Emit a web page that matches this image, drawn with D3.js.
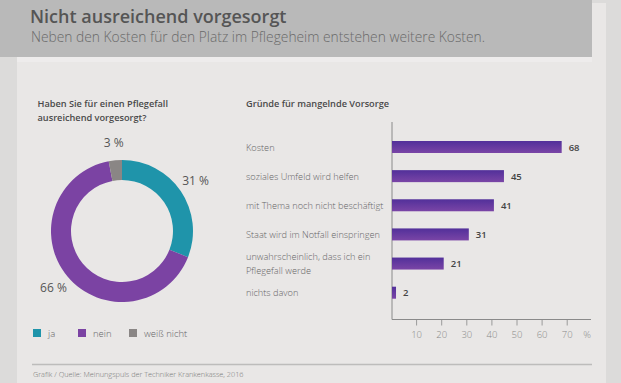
<!DOCTYPE html>
<html><head><meta charset="utf-8">
<script src="https://cdn.jsdelivr.net/npm/d3@7"></script>
<style>
html,body{margin:0;padding:0;background:#dcdbda;}
svg{display:block;font-family:"Open Sans",sans-serif;}
</style></head>
<body>
<svg id="c" width="621" height="383"></svg>
<script>
// ---- data ----
const title = "Nicht ausreichend vorgesorgt";
const subtitle = "Neben den Kosten für den Platz im Pflegeheim entstehen weitere Kosten.";
const donutTitle = ["Haben Sie für einen Pflegefall", "ausreichend vorgesorgt?"];
const donutCategories = ["ja", "nein", "weiß nicht"];
const donutValues = [31, 66, 3];
const donutColors = ["#1f94aa", "#7b43a3", "#8a8685"];
const barTitle = "Gründe für mangelnde Vorsorge";
const barCategories = ["Kosten", "soziales Umfeld wird helfen", "mit Thema noch nicht beschäftigt",
  "Staat wird im Notfall einspringen", "unwahrscheinlich, dass ich ein\nPflegefall werde", "nichts davon"];
const barValues = [68, 45, 41, 31, 21, 2];
const barTicks = [10, 20, 30, 40, 50, 60, 70];
const source = "Grafik / Quelle: Meinungspuls der Techniker Krankenkasse, 2016";

const svg = d3.select("#c");
const defs = svg.append("defs");
const g = defs.append("linearGradient").attr("id","barGrad").attr("x1",0).attr("x2",0).attr("y1",0).attr("y2",1);
g.append("stop").attr("offset","0%").attr("stop-color","#52309a");
g.append("stop").attr("offset","100%").attr("stop-color","#7a45a6");

// backgrounds
svg.append("rect").attr("x",0).attr("y",0).attr("width",621).attr("height",383).attr("fill","#dcdbda");
svg.append("rect").attr("x",17).attr("y",3).attr("width",589).attr("height",380).attr("fill","#e9e7e6");
svg.append("rect").attr("x",0).attr("y",0).attr("width",592).attr("height",57).attr("fill","#b9b9b9");
svg.append("rect").attr("x",17).attr("y",57).attr("width",575).attr("height",5).attr("fill","#eeecec");

svg.append("text").attr("x",30).attr("y",23).attr("font-size",18).attr("font-weight",600)
  .attr("fill","#555").text(title);
svg.append("text").attr("x",31).attr("y",41.5).attr("font-size",13.8).attr("font-weight",300)
  .attr("fill","#6a6a6a").text(subtitle);

// donut
donutTitle.forEach((t,i)=>{
  svg.append("text").attr("x",37.5).attr("y",107+i*14).attr("font-size",9.2).attr("font-weight",600)
    .attr("fill","#4a4a4a").text(t);
});
const cx=122, cy=231;
const pie = d3.pie().sort(null).value(d=>d)(donutValues);
const arc = d3.arc().innerRadius(51).outerRadius(71);
const labelArc = d3.arc().innerRadius(89).outerRadius(89);
const dg = svg.append("g").attr("transform",`translate(${cx},${cy})`);
dg.selectAll("path").data(pie).join("path").attr("d",arc).attr("fill",(d,i)=>donutColors[i]);
dg.selectAll("text").data(pie).join("text")
  .attr("transform",d=>`translate(${labelArc.centroid(d)})`)
  .attr("text-anchor","middle").attr("dominant-baseline","central")
  .attr("font-size",12).attr("fill","#555").text(d=>d.data+" %");

// legend
const legX = [33, 78, 129];
donutCategories.forEach((c,i)=>{
  svg.append("rect").attr("x",legX[i]).attr("y",329).attr("width",8).attr("height",8).attr("fill",donutColors[i]);
  svg.append("text").attr("x",legX[i]+15).attr("y",333).attr("dominant-baseline","central")
    .attr("font-size",9.5).attr("font-weight",300).attr("fill","#666").text(c);
});

// bar chart
svg.append("text").attr("x",246).attr("y",107).attr("font-size",9.2).attr("font-weight",600)
  .attr("fill","#4a4a4a").text(barTitle);
const x = d3.scaleLinear().domain([0,70]).range([391, 566.7]);
const y = d3.scalePoint().domain(barCategories).range([147, 292.7]);
const bh = 12;
svg.append("line").attr("x1",392).attr("x2",392).attr("y1",122).attr("y2",319.5).attr("stroke","#8a8a8a").attr("stroke-width",1);
const xAxis = d3.axisBottom(x).tickValues(barTicks).tickSize(6).tickFormat(d=>d);
const ax = svg.append("g").attr("transform","translate(0,319.5)").call(xAxis);
ax.select(".domain").remove();
ax.append("line").attr("x1",392).attr("x2",591).attr("y1",0).attr("y2",0).attr("stroke","#8a8a8a");
ax.selectAll(".tick line").attr("stroke","#9a9a9a");
ax.selectAll(".tick text").attr("y",15).attr("dy","0").attr("dominant-baseline","central")
  .attr("font-size",9.5).attr("font-weight",300).attr("fill","#888").attr("font-family","Open Sans");
svg.append("text").attr("x",587).attr("y",334.5).attr("text-anchor","middle").attr("dominant-baseline","central")
  .attr("font-size",9.5).attr("font-weight",300).attr("fill","#888").text("%");

svg.selectAll("rect.bar").data(barValues).join("rect").attr("class","bar")
  .attr("x",392).attr("y",(d,i)=>y(barCategories[i])-bh/2)
  .attr("width",d=>x(d)-392).attr("height",bh).attr("fill","url(#barGrad)");
svg.selectAll("text.val").data(barValues).join("text").attr("class","val")
  .attr("x",d=>x(d)+7).attr("y",(d,i)=>y(barCategories[i])).attr("dominant-baseline","central")
  .attr("font-size",9.5).attr("font-weight",600).attr("fill","#444").text(d=>d);
barCategories.forEach(c=>{
  const lines = c.split("\n");
  lines.forEach((l,j)=>{
    svg.append("text").attr("x",246).attr("y",y(c)+(j-(lines.length-1)/2)*14.5)
      .attr("dominant-baseline","central").attr("font-size",9.2).attr("font-weight",300)
      .attr("fill","#666").text(l);
  });
});

// footer
svg.append("line").attr("x1",32).attr("x2",592).attr("y1",364.5).attr("y2",364.5).attr("stroke","#bdbcbb").attr("stroke-width",1.5);
svg.append("text").attr("x",33).attr("y",373.5).attr("dominant-baseline","central").attr("font-size",7.3)
  .attr("font-weight",300).attr("fill","#777").text(source);
</script>
</body></html>
